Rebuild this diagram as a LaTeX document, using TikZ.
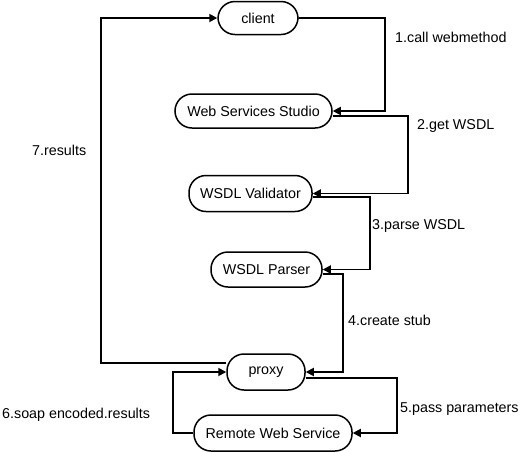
\documentclass[tikz,border=0pt]{standalone}
\usepackage{fontspec}
\setmainfont{Liberation Sans}
\usetikzlibrary{arrows.meta}
\begin{document}
\begin{tikzpicture}[x=1pt,y=-1pt,
  font=\fontsize{14.3}{17}\selectfont,
  box/.style={draw,line width=1.5pt,rounded corners=17pt,inner sep=0pt,align=center},
  arr/.style={line width=1.8pt,-{Triangle[length=8pt,width=8pt]}},
  lbl/.style={anchor=west,inner sep=0pt}]
\useasboundingbox[fill=white] (0,0) rectangle (523,451);
\node[box,minimum width=80pt,minimum height=33pt] (client) at (258,18) {client};
\node[box,minimum width=157pt,minimum height=34pt] (wss) at (253.5,111) {Web Services Studio};
\node[box,minimum width=123pt,minimum height=36pt] (val) at (250.5,193.5) {WSDL Validator};
\node[box,minimum width=111pt,minimum height=35pt] (parser) at (266.5,269.5) {WSDL Parser};
\node[box,minimum width=78pt,minimum height=36pt] (proxy) at (266,372) {proxy};
\node[box,minimum width=158pt,minimum height=36pt] (rws) at (273,433) {Remote Web Service};
\draw[arr] (client.east) -- ++(86,0) |- (wss.east);
\draw[arr] ([shift={(0,5)}]wss.east) -- ++(75,0) |- (val.east);
\draw[arr] ([shift={(0,3.5)}]val.east) -- ++(57,0) |- (parser.east);
\draw[arr] ([shift={(0,4.5)}]parser.east) -- ++(20,0) |- (proxy.east);
\draw[arr] ([shift={(0,6)}]proxy.east) -- ++(91,0) |- (rws.east);
\draw[arr] (rws.west) -- ++(-20,0) |- (proxy.west);
\draw[arr] ([shift={(0,-9)}]proxy.west) -- ++(-125,0) |- (client.west);
\node[lbl] (l1) at (395,37) {1.call webmethod};
\node[lbl] (l2) at (417,126) {2.get WSDL};
\node[lbl] (l3) at (372,226) {3.parse WSDL};
\node[lbl] (l4) at (348,320) {4.create stub};
\node[lbl] (l5) at (400,409) {5.pass parameters};
\node[lbl] (l6) at (2,415) {6.soap encoded.results};
\node[lbl] (l7) at (32,150) {7.results};
\end{tikzpicture}
\end{document}
